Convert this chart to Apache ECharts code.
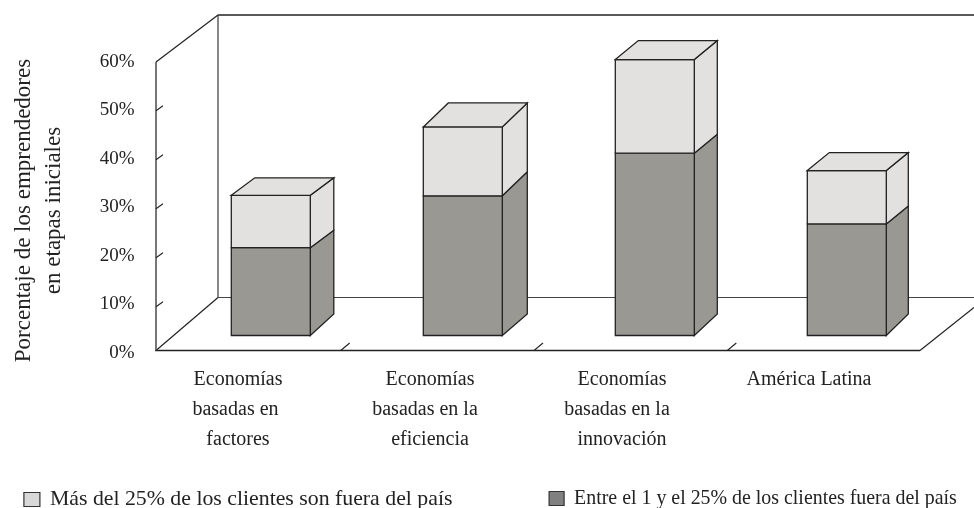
<!DOCTYPE html>
<html>
<head>
<meta charset="utf-8">
<style>html,body{margin:0;padding:0;background:#fff}#c{width:974px;height:508px}</style>
<script src="https://cdn.jsdelivr.net/npm/echarts@6/dist/echarts.min.js"></script>
</head>
<body>
<div id="c"></div>
<script>
const categories = [
  'Economías\nbasadas en\u00a0\nfactores',
  'Economías\nbasadas en la\u00a0\u00a0\neficiencia',
  'Economías\nbasadas en la\u00a0\u00a0\ninnovación',
  'América Latina\u00a0\u00a0'
];
const lowerName = 'Entre el 1 y el 25% de los clientes fuera del país';
const upperName = 'Más del 25% de los clientes son fuera del país';
const lowerValues = [18.1, 28.8, 37.6, 23.0];
const upperValues = [10.8, 14.2, 19.3, 11.0];
const axisName = 'Porcentaje de los emprendedores\nen etapas iniciales';

const FONT = '"Liberation Serif", serif';
const INK = '#222';
const LOWER = '#999893', UPPER = '#E2E1DF';
// projection of the pseudo-3D drawing, in pixels
const depth = [[23.5, -17.5], [25, -24], [23, -19], [22, -18]];
const baseDepthY = -21.5, frontLift = -17.5, frontShift = 24.3, halfBar = 39.5;

function poly(points, fill, lw) {
  return {type: 'polygon', shape: {points}, style: {fill, stroke: '#222', lineWidth: lw || 1.3}};
}
function seg(x1, y1, x2, y2, w, c) {
  return {type: 'line', shape: {x1, y1, x2, y2}, style: {stroke: c || '#222', lineWidth: w || 1, fill: null}};
}
function boxRenderer(color, withTop) {
  return function (params, api) {
    const i = api.value(0);
    const cx = api.coord([i, 0])[0] + frontShift;
    const yb = api.coord([i, api.value(1)])[1] + frontLift;
    const yt = api.coord([i, api.value(2)])[1] + frontLift;
    const [dx, dy] = depth[i];
    const x0 = cx - halfBar, x1 = cx + halfBar;
    const dyb = withTop ? dy : baseDepthY;
    const kids = [
      poly([[x1, yb], [x1 + dx, yb + dyb], [x1 + dx, yt + dy], [x1, yt]], color),
      poly([[x0, yb], [x1, yb], [x1, yt], [x0, yt]], color)
    ];
    if (withTop) kids.push(poly([[x0, yt], [x0 + dx, yt + dy], [x1 + dx, yt + dy], [x1, yt]], color));
    return {type: 'group', children: kids};
  };
}
function frameRenderer(params, api) {
  const top = api.coord([0, 60])[1], zero = api.coord([0, 0])[1], floorFront = zero - 2.5;
  const L = 156, BL = 218, R = 974, wallTop = 15, floorBack = 297.5, FR = 920;
  const kids = [
    seg(BL, wallTop, R, wallTop, 1.3),
    seg(BL, wallTop, BL, floorBack, 1.4, '#555'),
    seg(L, top, BL, wallTop, 1.2),
    seg(BL, floorBack, R, floorBack, 1.2, '#444'),
    seg(L, floorFront, BL, floorBack, 1.2),
    seg(L - 1, floorFront, FR, floorFront, 1.3),
    seg(FR, floorFront, R, 307.5, 1.2),
    seg(L, top, L, floorFront, 1.6, '#555')
  ];
  [10, 20, 30, 40, 50].forEach(v => {
    const y = api.coord([0, v])[1] + (50 - v) / 20 * 1 + 0.3;
    kids.push(seg(L, y, L + 7, y - 5, 1.1));
  });
  [0, 1, 2].forEach(i => {
    const x = api.coord([i, 0])[0] + 96 + (i - 1) * 1.3;
    kids.push(seg(x - 0.5, floorFront, x + 8.5, floorFront - 7.5, 1.1));
  });
  return {type: 'group', children: kids};
}
const chart = echarts.init(document.getElementById('c'), null, {renderer: 'canvas'});
chart.setOption({
  animation: false,
  backgroundColor: '#fff',
  grid: {left: 150.5, width: 768, top: 62, height: 291, containLabel: false, outerBoundsMode: 'none'},
  xAxis: {
    type: 'category', data: categories, boundaryGap: true,
    axisLine: {show: false}, axisTick: {show: false}, splitLine: {show: false},
    axisLabel: {
      interval: 0, margin: 12, color: INK, fontFamily: FONT, fontSize: 20,
      lineHeight: 30, align: 'center', padding: [0, 17, 0, 0], verticalAlign: 'top'
    }
  },
  yAxis: {
    type: 'value', min: 0, max: 60, interval: 10,
    axisLine: {show: false}, axisTick: {show: false}, splitLine: {show: false},
    axisLabel: {formatter: '{value}%', margin: 16, color: INK, fontFamily: FONT, fontSize: 19},
    name: axisName, nameLocation: 'middle', nameRotate: 90, nameGap: 82,
    nameTextStyle: {color: INK, fontFamily: FONT, fontSize: 23, lineHeight: 30, padding: [0, 6, 0, 0]}
  },
  legend: [
    {data: [upperName], left: 18.3, top: 483.5, icon: 'rect', itemWidth: 16, itemHeight: 14,
      textStyle: {fontFamily: FONT, fontSize: 21.8, color: INK, padding: [0, 0, 0, 5]},
      itemStyle: {color: '#D8D8D8', borderColor: '#333', borderWidth: 1.2}},
    {data: [lowerName], left: 543.5, top: 483.5, icon: 'rect', itemWidth: 15, itemHeight: 14,
      textStyle: {fontFamily: FONT, fontSize: 19.9, color: INK, padding: [0, 0, 0, 5]},
      itemStyle: {color: '#808080', borderColor: '#333', borderWidth: 1.2}}
  ],
  series: [
    {type: 'custom', name: 'frame', silent: true, z: 1, renderItem: frameRenderer, data: [[0, 0]], encode: {x: 0, y: 1}},
    {type: 'custom', name: lowerName, z: 2, itemStyle: {color: LOWER}, renderItem: boxRenderer(LOWER, false),
      encode: {x: 0, y: 2}, data: lowerValues.map((v, i) => [i, 0, v])},
    {type: 'custom', name: upperName, z: 3, itemStyle: {color: UPPER}, renderItem: boxRenderer(UPPER, true),
      encode: {x: 0, y: 2}, data: upperValues.map((v, i) => [i, lowerValues[i], lowerValues[i] + v])}
  ]
});
</script>
</body>
</html>
